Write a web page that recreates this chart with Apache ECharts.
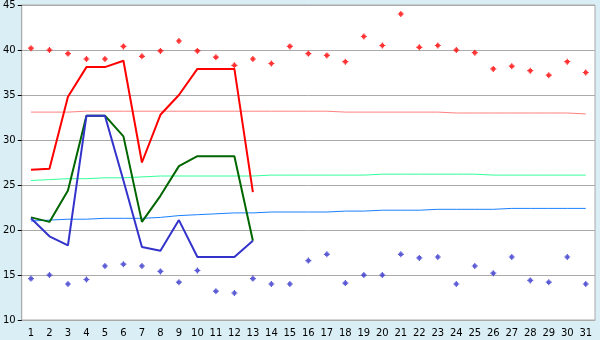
<!DOCTYPE html>
<html><head><meta charset="utf-8">
<script src="https://cdn.jsdelivr.net/npm/echarts@6/dist/echarts.min.js"></script>
<style>html,body{margin:0;padding:0;background:#daeff5}#c{width:600px;height:340px}</style>
</head><body><div id="c"></div>
<script>
var days = ['1','2','3','4','5','6','7','8','9','10','11','12','13','14','15','16','17','18','19','20','21','22','23','24','25','26','27','28','29','30','31'];
var maxDots = [40.2,40.0,39.6,39.0,39.0,40.4,39.3,39.9,41.0,39.9,39.2,38.3,39.0,38.5,40.4,39.6,39.4,38.7,41.5,40.5,44.0,40.3,40.5,40.0,39.7,37.9,38.2,37.7,37.2,38.7,37.5];
var minDots = [14.6,15.0,14.0,14.5,16.0,16.2,16.0,15.4,14.2,15.5,13.2,13.0,14.6,14.0,14.0,16.6,17.3,14.1,15.0,15.0,17.3,16.9,17.0,14.0,16.0,15.2,17.0,14.4,14.2,17.0,14.0];
var redLine = [26.7,26.8,34.8,38.1,38.1,38.8,27.5,32.8,35.0,37.9,37.9,37.9,24.2];
var greenLine = [21.4,20.9,24.4,32.7,32.7,30.4,20.9,23.8,27.1,28.2,28.2,28.2,18.8];
var blueLine = [21.3,19.3,18.3,32.7,32.7,25.5,18.1,17.7,21.1,17.0,17.0,17.0,18.8];
var normMax = [33.1,33.1,33.1,33.2,33.2,33.2,33.2,33.2,33.2,33.2,33.2,33.2,33.2,33.2,33.2,33.2,33.2,33.1,33.1,33.1,33.1,33.1,33.1,33.0,33.0,33.0,33.0,33.0,33.0,33.0,32.9];
var normMean = [25.5,25.6,25.7,25.7,25.8,25.8,25.9,26.0,26.0,26.0,26.0,26.0,26.0,26.1,26.1,26.1,26.1,26.1,26.1,26.2,26.2,26.2,26.2,26.2,26.2,26.1,26.1,26.1,26.1,26.1,26.1];
var normMin = [21.0,21.1,21.2,21.2,21.3,21.3,21.3,21.4,21.6,21.7,21.8,21.9,21.9,22.0,22.0,22.0,22.0,22.1,22.1,22.2,22.2,22.2,22.3,22.3,22.3,22.3,22.4,22.4,22.4,22.4,22.4];
var yTicks = {min:10, max:45, step:5};

var mark = 'path://M2,0H3V1H4V2H5V3H4V4H3V5H2V4H1V3H0V2H1V1H2Z';
var chart = echarts.init(document.getElementById('c'));
function line(data, color, w, z){
  return {type:'line', data:data, symbol:'none', z:z, animation:false,
    lineStyle:{color:color, width:w}, itemStyle:{color:color}};
}
chart.setOption({
  animation:false,
  backgroundColor:'#daeff5',
  grid:{left:20, right:5, top:5, bottom:20, show:true, backgroundColor:'#ffffff', borderColor:'#aaaaaa', borderWidth:1},
  xAxis:{type:'category', data:days, boundaryGap:true,
    axisLine:{lineStyle:{color:'#aaaaaa', width:1}},
    axisTick:{alignWithLabel:true, length:5, lineStyle:{color:'#000000'}},
    axisLabel:{color:'#000', fontFamily:'DejaVu Sans', fontSize:10, margin:8, interval:0},
    splitLine:{show:false}},
  yAxis:{type:'value', min:yTicks.min, max:yTicks.max, interval:yTicks.step,
    axisLine:{show:true, lineStyle:{color:'#aaaaaa'}},
    axisTick:{show:true, length:4, lineStyle:{color:'#000000'}},
    axisLabel:{color:'#000', fontFamily:'DejaVu Sans', fontSize:10, margin:6},
    splitLine:{lineStyle:{color:'#aaaaaa', width:1}}},
  series:[
    line(normMax,'#ff8080',1,2),
    line(normMean,'#33ff99',1,2),
    line(normMin,'#1a80ff',1,2),
    line(redLine,'#ff0000',2,3),
    line(greenLine,'#006600',2,3),
    line(blueLine,'#3333cc',2,3),
    {type:'scatter', data:maxDots, symbol:mark, symbolSize:6, itemStyle:{color:'#ff0000'}, z:4},
    {type:'scatter', data:minDots, symbol:mark, symbolSize:6, itemStyle:{color:'#3333cc'}, z:4}
  ]
});
</script></body></html>
